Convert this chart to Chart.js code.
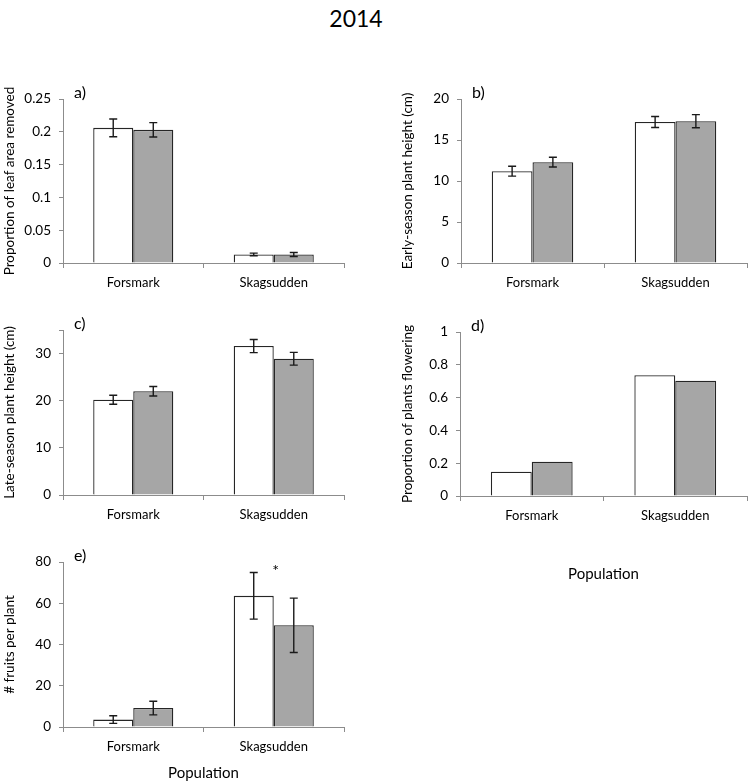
<!DOCTYPE html>
<html>
<head>
<meta charset="utf-8">
<script src="https://cdn.jsdelivr.net/npm/chart.js@4.4.1/dist/chart.umd.min.js"></script>
<style>
  body { margin: 0; background: #fff; }
  #page { position: relative; width: 750px; height: 784px; font-family: Lato, sans-serif; }
  #title { position: absolute; left: 0; width: 712px; top: 4px; text-align: center; font-size: 23px; color: #000; line-height: 28px; }
  .panel { position: absolute; }
</style>
</head>
<body>
<div id="page">
  <div id="title">2014</div>
  <div class="panel" style="left:0;top:80px;width:375px;height:223px"><canvas id="chartA"></canvas></div>
  <div class="panel" style="left:375px;top:80px;width:375px;height:223px"><canvas id="chartB"></canvas></div>
  <div class="panel" style="left:0;top:300px;width:375px;height:235px"><canvas id="chartC"></canvas></div>
  <div class="panel" style="left:375px;top:300px;width:375px;height:285px"><canvas id="chartD"></canvas></div>
  <div class="panel" style="left:0;top:540px;width:375px;height:244px"><canvas id="chartE"></canvas></div>
</div>
<script>
// Данные
const populations = ['Forsmark', 'Skagsudden'];

const leafRemovedWhite = [0.206, 0.013];
const leafRemovedGrey = [0.203, 0.013];
const leafRemovedWhiteErr = [0.0135, 0.002];
const leafRemovedGreyErr = [0.011, 0.003];

const earlyHeightWhite = [11.2, 17.2];
const earlyHeightGrey = [12.3, 17.3];
const earlyHeightWhiteErr = [0.6, 0.67];
const earlyHeightGreyErr = [0.6, 0.8];

const lateHeightWhite = [20.2, 31.6];
const lateHeightGrey = [22.0, 28.9];
const lateHeightWhiteErr = [0.95, 1.4];
const lateHeightGreyErr = [1.0, 1.35];

const floweringWhite = [0.148, 0.736];
const floweringGrey = [0.209, 0.703];

const fruitsWhite = [3.6, 63.6];
const fruitsGrey = [9.2, 49.3];
const fruitsWhiteErr = [1.85, 11.3];
const fruitsGreyErr = [3.3, 13.2];

const FONT = 'Lato, sans-serif';
const AXIS_COLOR = '#8c8c8c';
const EDGE = '#262626';
const TEXT = '#000';

// Планки погрешностей
const errorBarsPlugin = {
    id: 'errorBars',
    afterDatasetsDraw(chart, args, opts) {
        if (!opts.errors) return;
        const ctx = chart.ctx;
        const y = chart.scales.y;
        ctx.save();
        ctx.strokeStyle = '#1a1a1a';
        ctx.lineWidth = 1.4;
        opts.errors.forEach((errs, i) => {
            const meta = chart.getDatasetMeta(i);
            const vals = chart.data.datasets[i].data;
            meta.data.forEach((bar, j) => {
                const top = y.getPixelForValue(vals[j] + errs[j]);
                const bot = y.getPixelForValue(vals[j] - errs[j]);
                ctx.beginPath();
                ctx.moveTo(bar.x, top); ctx.lineTo(bar.x, bot);
                ctx.moveTo(bar.x - 4, top); ctx.lineTo(bar.x + 4, top);
                ctx.moveTo(bar.x - 4, bot); ctx.lineTo(bar.x + 4, bot);
                ctx.stroke();
            });
        });
        ctx.restore();
    }
};

// Буква панели и звёздочка
const labelsPlugin = {
    id: 'panelLabels',
    afterDraw(chart, args, opts) {
        const ctx = chart.ctx;
        const area = chart.chartArea;
        ctx.save();
        ctx.fillStyle = TEXT;
        ctx.font = '16px ' + FONT;
        ctx.textBaseline = 'middle';
        ctx.textAlign = 'left';
        ctx.fillText(opts.letter, area.left + 11, area.top - 6);
        if (opts.star) {
            ctx.font = '16px ' + FONT;
            ctx.textAlign = 'center';
            ctx.textBaseline = 'top';
            const sx = chart.scales.x.getPixelForValue(opts.star.index) + 2;
            const sy = chart.scales.y.getPixelForValue(opts.star.value);
            ctx.fillText('*', sx, sy);
        }
        ctx.restore();
    }
};

function makeChart(id, cfg) {
    const datasets = [
        { data: cfg.white, backgroundColor: '#ffffff', borderColor: EDGE, borderWidth: 1.3 },
        { data: cfg.grey, backgroundColor: '#a6a6a6', borderColor: EDGE, borderWidth: 1.3 }
    ];
    return new Chart(document.getElementById(id), {
        type: 'bar',
        data: { labels: populations, datasets: datasets },
        plugins: [errorBarsPlugin, labelsPlugin],
        options: {
            responsive: true,
            maintainAspectRatio: false,
            animation: false,
            layout: { padding: cfg.padding },
            plugins: {
                legend: { display: false },
                tooltip: { enabled: false },
                errorBars: { errors: cfg.errors },
                panelLabels: { letter: cfg.letter, star: cfg.star }
            },
            datasets: { bar: { categoryPercentage: 0.57, barPercentage: 1.0 } },
            scales: {
                x: {
                    grid: { display: true, drawOnChartArea: false, offset: true, tickLength: 5, color: AXIS_COLOR },
                    border: { display: true, color: AXIS_COLOR, width: 1 },
                    ticks: { color: TEXT, font: { family: FONT, size: 13 }, padding: 7 },
                    title: {
                        display: !!cfg.xTitle, text: cfg.xTitle || '', color: TEXT,
                        font: { family: FONT, size: 15 }, padding: { top: 4, bottom: 2 }
                    },
                    afterFit(scale) { scale.height = cfg.xHeight; }
                },
                y: {
                    min: 0, max: cfg.max,
                    grid: { display: true, drawOnChartArea: false, tickLength: 4, color: AXIS_COLOR },
                    border: { display: true, color: AXIS_COLOR, width: 1 },
                    ticks: {
                        stepSize: cfg.step, color: TEXT, font: { family: FONT, size: 13.5 }, padding: 8,
                        callback: cfg.tickCb || function(v) { return +v.toFixed(2); }
                    },
                    title: {
                        display: true, text: cfg.yTitle, color: TEXT,
                        font: { family: FONT, size: 13.5 }, padding: 0
                    },
                    afterFit(scale) { scale.width = cfg.yWidth; }
                }
            }
        }
    });
}

makeChart('chartA', {
    white: leafRemovedWhite, grey: leafRemovedGrey,
    errors: [leafRemovedWhiteErr, leafRemovedGreyErr],
    max: 0.25, step: 0.05, letter: 'a)', yTitle: 'Proportion of leaf area removed',
    padding: { left: 2, right: 31, top: 19, bottom: 0 }, yWidth: 61, xHeight: 40
});

makeChart('chartB', {
    white: earlyHeightWhite, grey: earlyHeightGrey,
    errors: [earlyHeightWhiteErr, earlyHeightGreyErr],
    max: 20, step: 5, letter: 'b)', yTitle: 'Early-season plant height (cm)',
    padding: { left: 25, right: 3, top: 19, bottom: 0 }, yWidth: 61, xHeight: 40
});

makeChart('chartC', {
    white: lateHeightWhite, grey: lateHeightGrey,
    errors: [lateHeightWhiteErr, lateHeightGreyErr],
    max: 35, step: 10, letter: 'c)', yTitle: 'Late-season plant height (cm)',
    tickCb: function(v) { return v === 35 ? '' : v; },
    padding: { left: 2, right: 31, top: 30, bottom: 0 }, yWidth: 61, xHeight: 40
});

makeChart('chartD', {
    white: floweringWhite, grey: floweringGrey,
    errors: null,
    max: 1, step: 0.2, letter: 'd)', yTitle: 'Proportion of plants flowering',
    padding: { left: 25, right: 3, top: 32, bottom: 0 }, yWidth: 60, xHeight: 89, xTitle: 'Population'
});

makeChart('chartE', {
    white: fruitsWhite, grey: fruitsGrey,
    errors: [fruitsWhiteErr, fruitsGreyErr],
    max: 80, step: 20, letter: 'e)', yTitle: '# fruits per plant',
    star: { index: 1, value: 79.8 },
    padding: { left: 2, right: 31, top: 22, bottom: 0 }, yWidth: 61, xHeight: 57, xTitle: 'Population'
});
</script>
</body>
</html>
